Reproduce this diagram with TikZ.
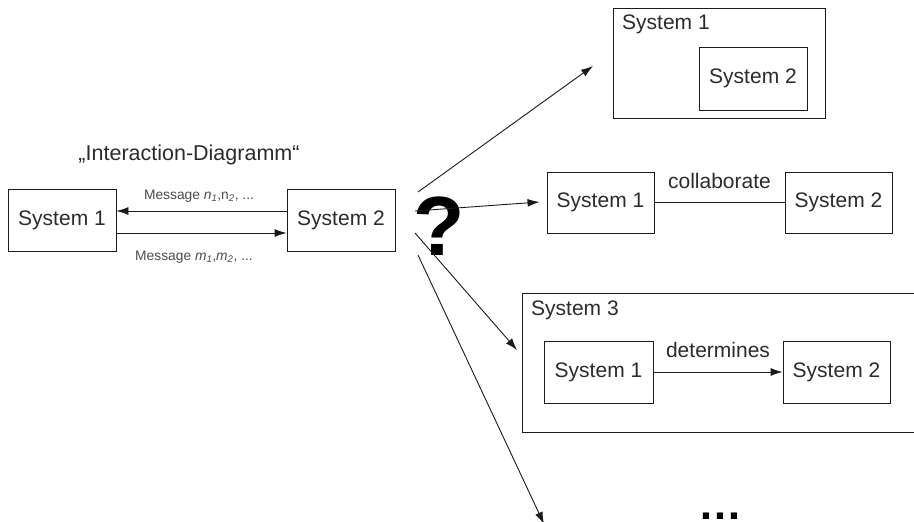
\documentclass[tikz,border=0pt]{standalone}
\usepackage{fontspec}
\setmainfont{Liberation Sans}
\usetikzlibrary{arrows.meta}
\definecolor{txt}{HTML}{2B2B2B}
\definecolor{ln}{HTML}{1A1A1A}
\tikzset{
  sysbox/.style={draw=ln, line width=0.9pt, rectangle, minimum width=108pt, minimum height=62pt, inner sep=0pt, text=txt, font=\fontsize{21}{25}\selectfont},
  outerbox/.style={draw=ln, line width=0.9pt, rectangle, inner sep=0pt},
  lbl/.style={text=txt, font=\fontsize{21}{25}\selectfont, inner sep=0pt},
  msg/.style={text=txt!85, font=\fontsize{13.8}{15}\selectfont, inner sep=0pt},
  arr/.style={draw=ln, line width=0.9pt, -{Latex[length=12pt,width=8pt]}},
  plain/.style={draw=ln, line width=0.9pt}
}
\begin{document}
\begin{tikzpicture}[x=1pt,y=-1pt]
\path[use as bounding box] (0,0) rectangle (914,522);
\clip (0,0) rectangle (914,522);

% left interaction diagram
\node[lbl, font=\fontsize{21.5}{25}\selectfont] (title) at (189,155) {„Interaction-Diagramm“};
\node[sysbox] (L1) at (62,220) {System 1};
\node[sysbox] (L2) at (341,220.5) {System 2};
\draw[arr] ([yshift=9.5pt]L2.west) -- ([yshift=9pt]L1.east);
\draw[arr] ([yshift=-13pt]L1.east) -- ([yshift=-12.5pt]L2.west);
\node[msg, anchor=base] (mn) at (199,199) {Message \textit{n}\textsubscript{\textit{1}},n\textsubscript{\textit{2}}, ...};
\node[msg, anchor=base] (mm) at (194,260) {Message \textit{m}\textsubscript{\textit{1}},\textit{m}\textsubscript{\textit{2}}, ...};

% question mark
\node[inner sep=0pt, text=black, font=\bfseries\fontsize{84}{84}\selectfont] (q) at (439,226) {?};

% top right: nested
\node[outerbox, minimum width=212pt, minimum height=110pt] (T1) at (719,63) {};
\node[lbl, anchor=base west] (T1l) at (622,30) {System 1};
\node[sysbox, minimum height=63pt] (T2) at (753,78.5) {System 2};

% middle: collaborate
\node[sysbox, minimum width=107pt, minimum height=61pt] (M1) at (600.5,202.5) {System 1};
\node[sysbox, minimum width=107pt, minimum height=61pt] (M2) at (838.5,202.5) {System 2};
\draw[plain] (M1.east) -- (M2.west) node[lbl, midway, anchor=base, yshift=14pt] (col) {collaborate};

% system 3
\node[outerbox, minimum width=440pt, minimum height=139pt] (S3) at (742,362.5) {};
\node[lbl, anchor=base west] (S3l) at (531,315) {System 3};
\node[sysbox, minimum width=109pt] (S1) at (598.5,372) {System 1};
\node[sysbox, minimum width=107pt] (S2) at (836.5,372) {System 2};
\draw[arr] (S1.east) -- (S2.west) node[lbl, midway, anchor=base, yshift=15pt] (det) {determines};

% fan of arrows
\coordinate (s1) at (418,192);
\coordinate (s2) at (415,211);
\coordinate (s3) at (415,233);
\coordinate (s4) at (418,255);
\coordinate (t1) at (593,66);
\coordinate (t3) at (517,350);
\coordinate (t4) at (544,524);
\draw[arr] (s1) -- (t1);
\draw[arr] (s2) -- ([xshift=-7pt,yshift=0.5pt]M1.west);
\draw[arr] (s3) -- (t3);
\draw[arr] (s4) -- (t4);

% ellipsis
\node[inner sep=0pt, anchor=base, text=black, font=\bfseries\fontsize{44}{44}\selectfont] (dots) at (720,519.5) {…};
\end{tikzpicture}
\end{document}
